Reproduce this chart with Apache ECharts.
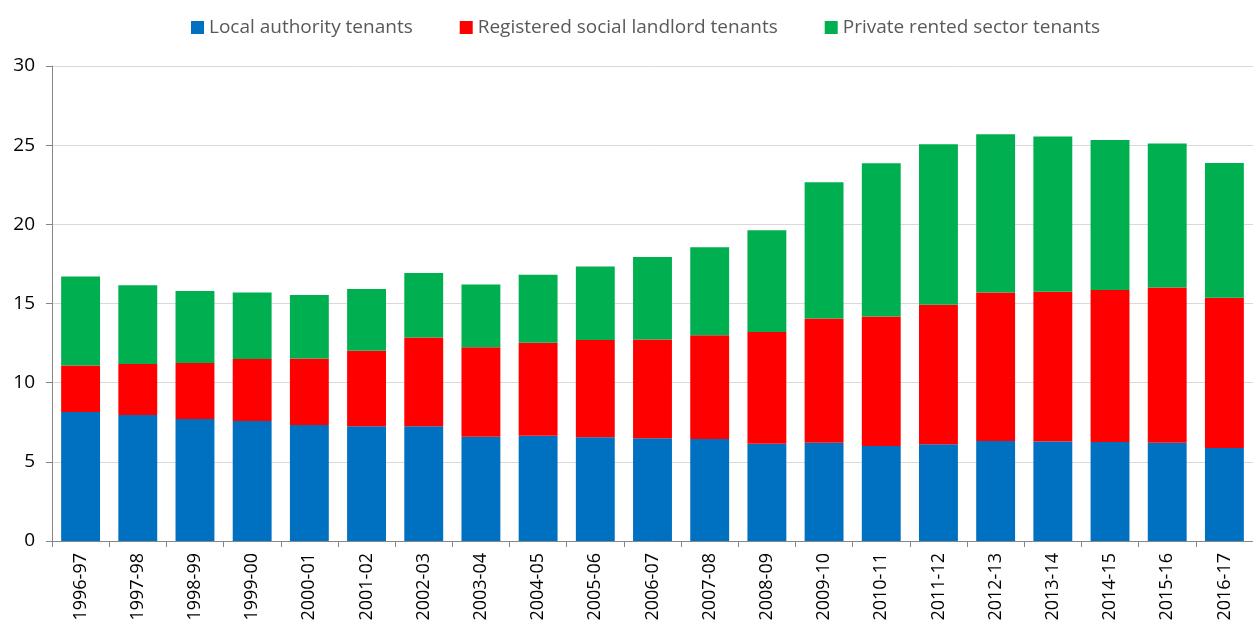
<!DOCTYPE html>
<html>
<head>
<meta charset="utf-8">
<script src="https://cdn.jsdelivr.net/npm/echarts@6/dist/echarts.min.js"></script>
<style>html,body{margin:0;padding:0;background:#fff}#c{width:1253px;height:627px}</style>
</head>
<body>
<div id="c"></div>
<script>
const categories = ['1996-97','1997-98','1998-99','1999-00','2000-01','2001-02','2002-03','2003-04','2004-05','2005-06','2006-07','2007-08','2008-09','2009-10','2010-11','2011-12','2012-13','2013-14','2014-15','2015-16','2016-17'];
const localAuthority = [8.15,7.96,7.71,7.58,7.33,7.24,7.25,6.59,6.64,6.55,6.49,6.45,6.15,6.2,6.0,6.11,6.32,6.28,6.26,6.2,5.88];
const registeredSocial = [2.94,3.22,3.53,3.92,4.2,4.78,5.6,5.64,5.88,6.14,6.24,6.54,7.05,7.86,8.18,8.81,9.38,9.46,9.59,9.81,9.48];
const privateRented = [5.62,4.98,4.55,4.2,4.0,3.89,4.08,3.97,4.29,4.65,5.2,5.57,6.43,8.6,9.68,10.14,9.99,9.8,9.48,9.09,8.52];
const seriesNames = ['Local authority tenants','Registered social landlord tenants','Private rented sector tenants'];
const colors = ['#0070C0','#FF0000','#00B050'];

const chart = echarts.init(document.getElementById('c'));
const font = 'Open Sans';
chart.setOption({
  animation: false,
  color: colors,
  textStyle: {fontFamily: font},
  legend: {
    top: 13, left: 186,
    itemWidth: 13, itemHeight: 13, itemGap: 47,
    icon: 'rect',
    textStyle: {fontSize: 19, color: '#595959', fontFamily: font, padding: [0,0,0,0]},
    data: seriesNames
  },
  grid: {left: 52, right: 0, top: 66, bottom: 86, containLabel: false},
  xAxis: {
    type: 'category', data: categories,
    axisLine: {lineStyle: {color: '#868686'}},
    axisTick: {show: true, alignWithLabel: false, length: 6, lineStyle: {color: '#868686'}},
    axisLabel: {rotate: 90, fontSize: 18, color: '#000', margin: 12, interval: 0, fontFamily: font}
  },
  yAxis: {
    type: 'value', min: 0, max: 30, interval: 5,
    axisLine: {show: true, lineStyle: {color: '#868686'}},
    axisTick: {show: true, length: 6, lineStyle: {color: '#868686'}},
    splitLine: {lineStyle: {color: '#d9d9d9'}},
    axisLabel: {fontSize: 19, color: '#000', margin: 17, fontFamily: font}
  },
  series: [
    {name: seriesNames[0], type: 'bar', stack: 't', data: localAuthority, barCategoryGap: '32%'},
    {name: seriesNames[1], type: 'bar', stack: 't', data: registeredSocial},
    {name: seriesNames[2], type: 'bar', stack: 't', data: privateRented}
  ]
});
</script>
</body>
</html>
